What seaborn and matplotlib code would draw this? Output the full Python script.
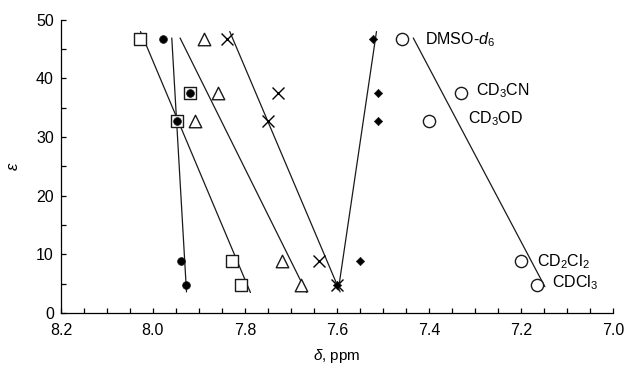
import matplotlib
matplotlib.use("Agg")
import matplotlib.pyplot as plt
from matplotlib.ticker import MultipleLocator
import seaborn as sns
import pandas as pd

# dielectric constants of the solvents (y)
solvents = ["DMSO-d6", "CD3CN", "CD3OD", "CD2Cl2", "CDCl3"]
eps = [46.7, 37.5, 32.7, 8.93, 4.81]

# chemical shifts (ppm) for each proton series, same solvent order
shift_fcircle = [7.979, 7.920, 7.948, 7.939, 7.928]
shift_square = [8.028, 7.920, 7.948, 7.829, 7.809]
shift_triangle = [7.889, 7.859, 7.909, 7.719, 7.679]
shift_cross = [7.838, 7.729, 7.749, 7.639, 7.600]
shift_diamond = [7.521, 7.510, 7.510, 7.550, 7.600]
shift_ocircle = [7.459, 7.331, 7.400, 7.200, 7.166]

# trend lines: (shift at top, shift at bottom)
line_eps = [[46.9, 3.6], [48.0, 3.5], [46.9, 3.5], [48.0, 3.6], [48.0, 3.9], [46.9, 4.5]]
line_shift = [[7.959, 7.927], [8.027, 7.788], [7.941, 7.666],
              [7.833, 7.593], [7.514, 7.597], [7.434, 7.148]]

# solvent labels next to the open circles
label_text = ["DMSO-$d_6$", "CD$_3$CN", "CD$_3$OD", "CD$_2$Cl$_2$", "CDCl$_3$"]
label_x = [7.409, 7.298, 7.315, 7.166, 7.133]
label_y = [46.6, 38.0, 33.1, 8.8, 5.2]

sns.set_style("ticks")
plt.rcParams["font.family"] = ["Liberation Sans", "DejaVu Sans"]
plt.rcParams["mathtext.fontset"] = "custom"
plt.rcParams["mathtext.rm"] = "Liberation Sans"
plt.rcParams["mathtext.it"] = "Liberation Sans:italic"
for k in ["text.color", "axes.labelcolor", "xtick.color", "ytick.color", "axes.edgecolor"]:
    plt.rcParams[k] = "black"

fig = plt.figure(figsize=(6.28, 3.67), dpi=100)
ax = fig.add_axes([0.097, 0.147, 0.879, 0.799])

# lines first
for ys, xs in zip(line_eps, line_shift):
    d = pd.DataFrame({"x": xs, "y": ys})
    sns.lineplot(data=d, x="x", y="y", sort=False, estimator=None,
                 color="#1a1a1a", lw=0.9, ax=ax)

series = [
    (shift_square, "s", "white", 8.6, 1.0),
    (shift_triangle, "^", "white", 9.0, 1.0),
    (shift_cross, "x", "none", 8.6, 1.0),
    (shift_ocircle, "o", "white", 8.8, 1.0),
    (shift_fcircle, "o", "black", 5.6, 0.5),
    (shift_diamond, "D", "black", 4.2, 0.5),
]
for xs, mk, fc, ms, mew in series:
    d = pd.DataFrame({"x": xs, "y": eps})
    sns.scatterplot(data=d, x="x", y="y", marker=mk, s=ms ** 2,
                    facecolor=fc if mk != "x" else "black",
                    edgecolor="#1a1a1a", linewidth=mew, ax=ax, zorder=3)

for t, x, y in zip(label_text, label_x, label_y):
    ax.text(x, y, t, fontsize=11.5, ha="left", va="center")

ax.set_xlim(8.2, 7.0)
ax.set_ylim(0, 50)
ax.xaxis.set_major_locator(MultipleLocator(0.2))
ax.xaxis.set_minor_locator(MultipleLocator(0.05))
ax.yaxis.set_major_locator(MultipleLocator(10))
ax.yaxis.set_minor_locator(MultipleLocator(5))
ax.xaxis.set_major_formatter(plt.FuncFormatter(lambda v, p: f"{v:.1f}"))
ax.tick_params(which="both", direction="in", length=3.5, width=0.9,
               labelsize=11.5)
ax.tick_params(axis="x", pad=7)
ax.tick_params(axis="y", pad=5)
for s in ["top", "right"]:
    ax.spines[s].set_visible(False)
for s in ["left", "bottom"]:
    ax.spines[s].set_linewidth(0.9)
ax.set_xlabel("$\\it{\\delta}$, ppm", fontsize=11, labelpad=7)
ax.set_ylabel("$\\varepsilon$", fontsize=12, labelpad=11)

fig.savefig("out.png", dpi=100)
